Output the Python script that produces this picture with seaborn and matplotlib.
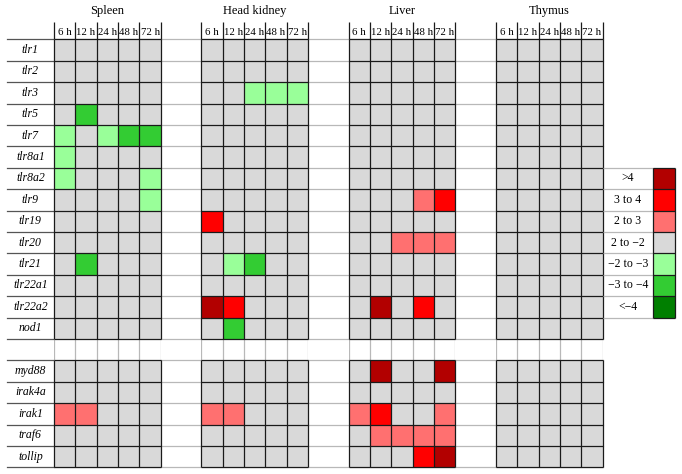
import numpy as np
import pandas as pd
import matplotlib
matplotlib.use("Agg")
import matplotlib.pyplot as plt
import seaborn as sns
from matplotlib.colors import ListedColormap
from matplotlib.lines import Line2D

# levels: 3 = >4, 2 = 3 to 4, 1 = 2 to 3, 0 = 2 to -2, -1 = -2 to -3, -2 = -3 to -4, -3 = <-4
genes = ["tlr1", "tlr2", "tlr3", "tlr5", "tlr7", "tlr8a1", "tlr8a2", "tlr9", "tlr19",
         "tlr20", "tlr21", "tlr22a1", "tlr22a2", "nod1",
         "myd88", "irak4a", "irak1", "traf6", "tollip"]
times = ["6 h", "12 h", "24 h", "48 h", "72 h"]
tissues = ["Spleen", "Head kidney", "Liver", "Thymus"]

spleen = [
    [0, 0, 0, 0, 0],    # tlr1
    [0, 0, 0, 0, 0],    # tlr2
    [0, 0, 0, 0, 0],    # tlr3
    [0, -2, 0, 0, 0],   # tlr5
    [-1, 0, -1, -2, -2],  # tlr7
    [-1, 0, 0, 0, 0],   # tlr8a1
    [-1, 0, 0, 0, -1],  # tlr8a2
    [0, 0, 0, 0, -1],   # tlr9
    [0, 0, 0, 0, 0],    # tlr19
    [0, 0, 0, 0, 0],    # tlr20
    [0, -2, 0, 0, 0],   # tlr21
    [0, 0, 0, 0, 0],    # tlr22a1
    [0, 0, 0, 0, 0],    # tlr22a2
    [0, 0, 0, 0, 0],    # nod1
    [0, 0, 0, 0, 0],    # myd88
    [0, 0, 0, 0, 0],    # irak4a
    [1, 1, 0, 0, 0],    # irak1
    [0, 0, 0, 0, 0],    # traf6
    [0, 0, 0, 0, 0],    # tollip
]
head_kidney = [
    [0, 0, 0, 0, 0],
    [0, 0, 0, 0, 0],
    [0, 0, -1, -1, -1],
    [0, 0, 0, 0, 0],
    [0, 0, 0, 0, 0],
    [0, 0, 0, 0, 0],
    [0, 0, 0, 0, 0],
    [0, 0, 0, 0, 0],
    [2, 0, 0, 0, 0],
    [0, 0, 0, 0, 0],
    [0, -1, -2, 0, 0],
    [0, 0, 0, 0, 0],
    [3, 2, 0, 0, 0],
    [0, -2, 0, 0, 0],
    [0, 0, 0, 0, 0],
    [0, 0, 0, 0, 0],
    [1, 1, 0, 0, 0],
    [0, 0, 0, 0, 0],
    [0, 0, 0, 0, 0],
]
liver = [
    [0, 0, 0, 0, 0],
    [0, 0, 0, 0, 0],
    [0, 0, 0, 0, 0],
    [0, 0, 0, 0, 0],
    [0, 0, 0, 0, 0],
    [0, 0, 0, 0, 0],
    [0, 0, 0, 0, 0],
    [0, 0, 0, 1, 2],
    [0, 0, 0, 0, 0],
    [0, 0, 1, 1, 1],
    [0, 0, 0, 0, 0],
    [0, 0, 0, 0, 0],
    [0, 3, 0, 2, 0],
    [0, 0, 0, 0, 0],
    [0, 3, 0, 0, 3],
    [0, 0, 0, 0, 0],
    [1, 2, 0, 0, 1],
    [0, 1, 1, 1, 1],
    [0, 0, 0, 2, 3],
]
thymus = [[0, 0, 0, 0, 0] for _ in genes]

legend_labels = [">4", "3 to 4", "2 to 3", "2 to \u22122", "\u22122 to \u22123",
                 "\u22123 to \u22124", "<\u22124"]
legend_levels = [3, 2, 1, 0, -1, -2, -3]
level_colors = ["#007F00", "#33CC33", "#99FF99", "#D9D9D9", "#FF7070", "#FF0000", "#B20000"]

cmap = ListedColormap(level_colors)
blank_after = genes.index("nod1")
dark = "#1a1a1a"
light = "#b8b8b8"

plt.rcParams["font.family"] = ["Liberation Serif", "DejaVu Serif"]

W, H = 682, 474
fig = plt.figure(figsize=(W / 100, H / 100), dpi=100)

top = 39.3
row_h = 21.4
col_w = 21.35
n_rows = len(genes) + 1
x_starts = [54, 201.3, 348.6, 495.9]
label_x0 = 7


def rect(x, y, w, h):
    return [x / W, 1 - (y + h) / H, w / W, h / H]


def with_blank(vals):
    arr = np.array(vals, dtype=float)
    blank = np.full((1, arr.shape[1]), np.nan)
    return np.vstack([arr[:blank_after + 1], blank, arr[blank_after + 1:]])


row_labels = genes[:blank_after + 1] + [""] + genes[blank_after + 1:]

# row separator lines behind the table (gaps + label column)
table_right = x_starts[-1] + 5 * col_w
for i in range(n_rows + 1):
    y = 1 - (top + i * row_h) / H
    fig.add_artist(Line2D([54 / W, table_right / W], [y, y], color=light,
                          lw=0.9, zorder=-1, transform=fig.transFigure))
    fig.add_artist(Line2D([label_x0 / W, 54 / W], [y, y], color="#555555",
                          lw=0.9, zorder=-1, transform=fig.transFigure))

for k, (name, vals) in enumerate(zip(tissues, [spleen, head_kidney, liver, thymus])):
    df = pd.DataFrame(with_blank(vals), index=row_labels, columns=times)
    ax = fig.add_axes(rect(x_starts[k], top, 5 * col_w, n_rows * row_h))
    sns.heatmap(df, ax=ax, cmap=cmap, vmin=-3.5, vmax=3.5, cbar=False, linewidths=0)
    # grid
    ax.vlines(np.arange(6), blank_after + 1, blank_after + 2, colors=light, lw=0.9, zorder=3)
    ax.hlines(np.arange(n_rows + 1), 0, 5, colors=dark, lw=0.9, clip_on=False, zorder=4)
    ax.vlines(np.arange(6), 0, blank_after + 1, colors=dark, lw=0.9, clip_on=False, zorder=4)
    ax.vlines(np.arange(6), blank_after + 2, n_rows, colors=dark, lw=0.9, clip_on=False,
              zorder=4)
    # header
    ax.xaxis.tick_top()
    ax.set_xticks(np.arange(5) + 0.5)
    ax.set_xticklabels(times, fontsize=7.8, rotation=0)
    ax.tick_params(axis="x", length=0, pad=1.5)
    ax.vlines(np.arange(6), -0.8, 0, colors=dark, lw=0.9, clip_on=False, zorder=4)
    ax.text(2.5, -1.3, name, ha="center", va="center", fontsize=9)
    ax.set_xlabel("")
    ax.set_ylabel("")
    if k == 0:
        ax.set_yticks(np.arange(n_rows) + 0.5)
        ax.set_yticklabels(row_labels, fontsize=8.5, style="italic", rotation=0)
        ax.tick_params(axis="y", length=0, pad=17)
        for lab in ax.get_yticklabels():
            lab.set_ha("center")
    else:
        ax.set_yticks([])
    for s in ax.spines.values():
        s.set_visible(False)

# legend
lg_top = top + 6 * row_h
lg_w = 22
lax = fig.add_axes(rect(653, lg_top, lg_w, 7 * row_h))
ldf = pd.DataFrame({"level": legend_levels}, index=legend_labels, dtype=float)
sns.heatmap(ldf, ax=lax, cmap=cmap, vmin=-3.5, vmax=3.5, cbar=False, linewidths=0)
lax.hlines(np.arange(8), 0, 1, colors=dark, lw=0.9, clip_on=False, zorder=4)
lax.vlines([0, 1], 0, 7, colors=dark, lw=0.9, clip_on=False, zorder=4)
lax.set_xticks([])
lax.set_yticks(np.arange(7) + 0.5)
lax.set_yticklabels(legend_labels, fontsize=8.5, rotation=0)
lax.tick_params(axis="y", length=0, pad=18)
for lab in lax.get_yticklabels():
    lab.set_ha("center")
lax.set_xlabel("")
lax.set_ylabel("")
lax.hlines(np.arange(8), -(653 - table_right) / lg_w, 0, colors=light, lw=0.9,
           clip_on=False)
for s in lax.spines.values():
    s.set_visible(False)

fig.savefig("out.png", dpi=100)
